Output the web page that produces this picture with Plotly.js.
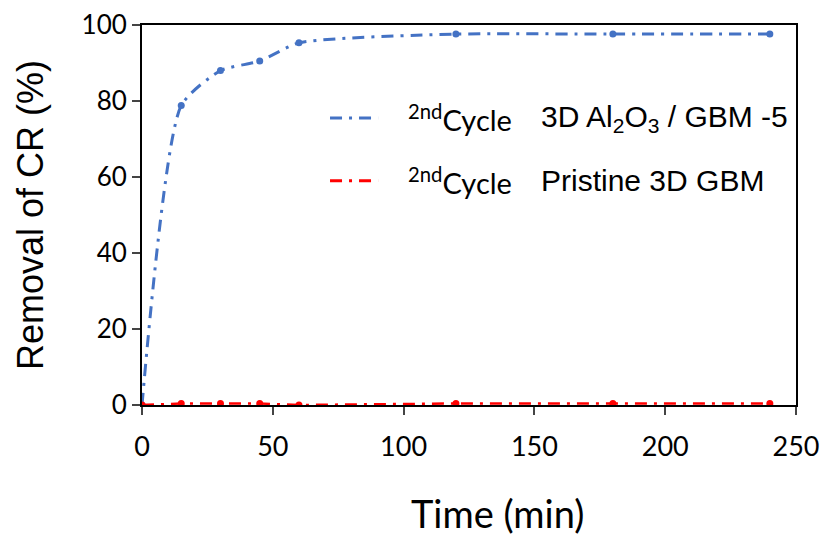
<!DOCTYPE html>
<html>
<head>
<meta charset="utf-8">
<script src="https://cdn.plot.ly/plotly-3.0.1.min.js"></script>
<style>html,body{margin:0;padding:0;background:#fff;}#chart{width:826px;height:539px;}</style>
</head>
<body>
<div id="chart"></div>
<script>
var timeMin = [0, 15, 30, 45, 60, 120, 180, 240];
var removalAl2O3 = [0, 78.8, 88.0, 90.5, 95.3, 97.6, 97.6, 97.6];
var removalPristine = [0, 0.4, 0.4, 0.4, 0.0, 0.4, 0.4, 0.4];
var xTicks = [0, 50, 100, 150, 200, 250];
var yTicks = [0, 20, 40, 60, 80, 100];
var seriesColors = ['#4472C4', '#FF0000'];
var cycleLabel = '<sup>2nd</sup>Cycle';
var seriesLabels = ['3D Al<sub>2</sub>O<sub>3</sub> / GBM -5', 'Pristine 3D GBM'];
var xTitle = 'Time (min)';
var yTitle = 'Removal of CR (%)';
var DASH = '12px,7px,3px,7px';

var traces = [
  {x: timeMin, y: removalAl2O3, name: seriesLabels[0], mode: 'lines+markers',
   line: {color: seriesColors[0], width: 3, dash: DASH, shape: 'spline', smoothing: 0.6},
   marker: {color: seriesColors[0], size: 7}},
  {x: timeMin, y: removalPristine, name: seriesLabels[1], mode: 'lines+markers',
   line: {color: seriesColors[1], width: 2.5, dash: DASH},
   marker: {color: seriesColors[1], size: 7}}
];

// manual legend (line sample + text), paper coordinates
var legendRowsY = [0.755, 0.59];
var shapes = [], annotations = [];
for (var i = 0; i < 2; i++) {
  shapes.push({type: 'line', xref: 'paper', yref: 'paper', x0: 0.2875, x1: 0.361,
    y0: legendRowsY[i], y1: legendRowsY[i], line: {color: seriesColors[i], width: 3, dash: DASH}});
  annotations.push({xref: 'paper', yref: 'paper', x: 0.403, y: legendRowsY[i], xanchor: 'left', yanchor: 'middle',
    text: cycleLabel, showarrow: false, font: {family: 'Lato, sans-serif', size: 29, color: '#000'}});
  annotations.push({xref: 'paper', yref: 'paper', x: 0.607, y: legendRowsY[i], xanchor: 'left', yanchor: 'middle',
    text: seriesLabels[i], showarrow: false, font: {family: 'Liberation Sans, Arial, sans-serif', size: 30, color: '#000'}});
}
// x-axis title placed as annotation (offset to the right as in the reference)
annotations.push({xref: 'paper', yref: 'paper', x: 0.544, y: -0.285, xanchor: 'center', yanchor: 'middle',
  text: xTitle, showarrow: false, font: {family: 'Lato, sans-serif', size: 38, color: '#000'}});

var layout = {
  width: 826, height: 539,
  margin: {l: 142, r: 30, t: 25, b: 134},
  paper_bgcolor: '#fff', plot_bgcolor: '#fff',
  font: {family: 'Lato, Liberation Sans, sans-serif', color: '#000', size: 20},
  showlegend: false,
  shapes: shapes,
  annotations: annotations,
  xaxis: {range: [0, 250], tickvals: xTicks, ticktext: xTicks.map(String), ticks: 'outside', ticklen: 8, tickwidth: 2,
    showline: true, linecolor: '#000', linewidth: 2, mirror: true, showgrid: false, zeroline: false,
    ticklabeloverflow: 'allow', ticklabelstandoff: 9, tickfont: {size: 27}},
  yaxis: {range: [0, 100], tickvals: yTicks, ticktext: yTicks.map(String), ticks: 'outside', ticklen: 8, tickwidth: 2,
    showline: true, linecolor: '#000', linewidth: 2, mirror: true, showgrid: false, zeroline: false,
    tickfont: {size: 26}, title: {text: yTitle, font: {family: 'Liberation Sans, Arial, sans-serif', size: 36}, standoff: 27}}
};
Plotly.newPlot('chart', traces, layout, {displayModeBar: false, staticPlot: true});
</script>
</body>
</html>
